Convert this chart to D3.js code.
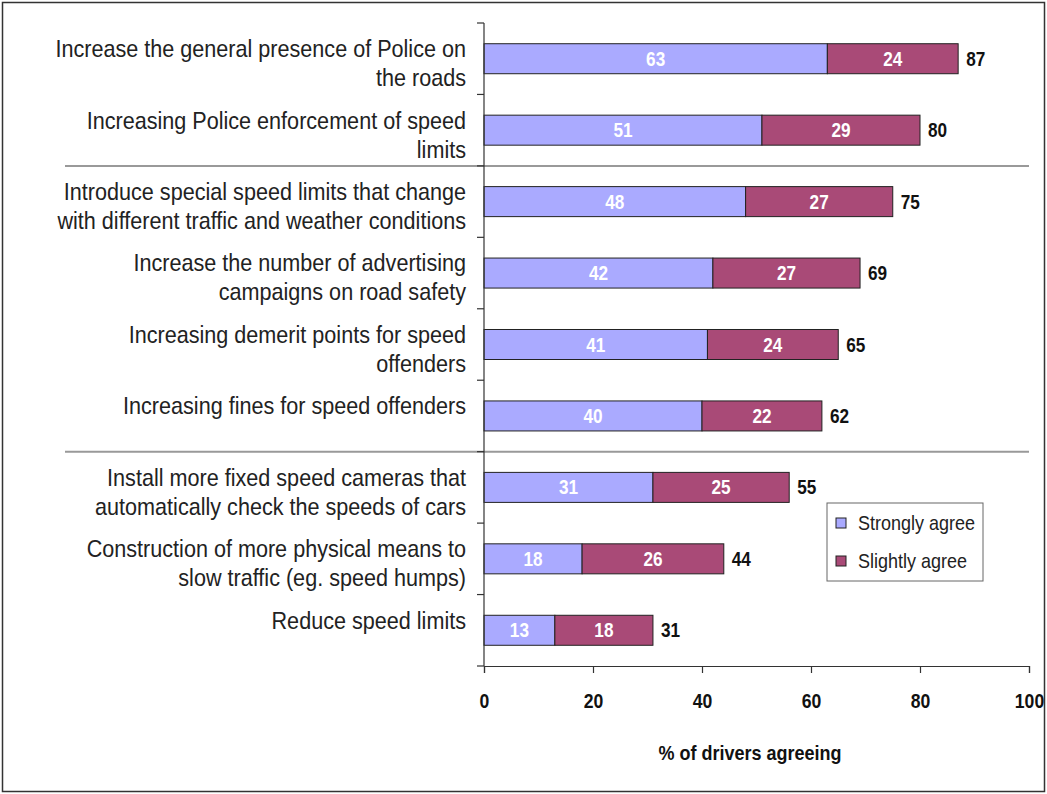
<!DOCTYPE html>
<html>
<head>
<meta charset="utf-8">
<script src="https://cdn.jsdelivr.net/npm/d3@7"></script>
<style>
  body { margin: 0; background: #fff; }
  svg text { font-family: "Liberation Sans", Arial, sans-serif; }
</style>
</head>
<body>
<div id="chart"></div>
<script>
// Stacked horizontal bars - % of drivers agreeing
const categories = [
  ['Increase the general presence of Police on', 'the roads'],
  ['Increasing Police enforcement of speed', 'limits'],
  ['Introduce special speed limits that change', 'with different traffic and weather conditions'],
  ['Increase the number of advertising', 'campaigns on road safety'],
  ['Increasing demerit points for speed', 'offenders'],
  ['Increasing fines for speed offenders'],
  ['Install more fixed speed cameras that', 'automatically check the speeds of cars'],
  ['Construction of more physical means to', 'slow traffic (eg. speed humps)'],
  ['Reduce speed limits']
];
const stronglyAgree = [63, 51, 48, 42, 41, 40, 31, 18, 13];
const slightlyAgree = [24, 29, 27, 27, 24, 22, 25, 26, 18];
const totals = [87, 80, 75, 69, 65, 62, 55, 44, 31];
const xTicks = [0, 20, 40, 60, 80, 100];
const seriesNames = ['Strongly agree', 'Slightly agree'];
const separatorsAfter = [1, 5]; // group lines after these rows

const width = 1047, height = 794;
const colors = ['#aaaaff', '#a94a77'];

const svg = d3.select('#chart').append('svg')
  .attr('width', width)
  .attr('height', height);

// narrow text helper: text anchored at (tx, ty), squeezed horizontally
// (no narrow font installed, so Liberation Sans gets compressed)
function ntext(parent, tx, ty, sq) {
  return parent.append('text')
    .attr('transform', `translate(${tx},${ty}) scale(${sq},1)`)
    .attr('dy', '0.35em');
}

// outer frame
svg.append('rect')
  .attr('x', 2.5).attr('y', 2.5)
  .attr('width', 1042).attr('height', 789)
  .attr('fill', 'none')
  .attr('stroke', '#333')
  .attr('stroke-width', 1.5);

const keys = categories.map((d, i) => i);
const x = d3.scaleLinear().domain([0, 100]).range([484, 1029]);
const y = d3.scaleBand().domain(keys).range([23, 666]).padding(0);
const barH = y.bandwidth() * 0.42;
const cy = i => y(i) + y.bandwidth() / 2;

// stack data
const rows = keys.map(i => ({ i: i, strong: stronglyAgree[i], slight: slightlyAgree[i] }));
const series = d3.stack().keys(['strong', 'slight'])(rows);

// separator lines
svg.append('g').selectAll('line')
  .data(separatorsAfter)
  .join('line')
  .attr('x1', 65).attr('x2', x(100))
  .attr('y1', d => y(d) + y.step())
  .attr('y2', d => y(d) + y.step())
  .attr('stroke', '#999')
  .attr('stroke-width', 2);

// bars
const g = svg.append('g');
series.forEach((s, si) => {
  g.append('g').selectAll('rect')
    .data(s)
    .join('rect')
    .attr('x', d => x(d[0]))
    .attr('y', d => cy(d.data.i) - barH / 2)
    .attr('width', d => x(d[1]) - x(d[0]))
    .attr('height', barH)
    .attr('fill', colors[si])
    .attr('stroke', '#222')
    .attr('stroke-width', 1);

  // value labels in segments
  const lg = g.append('g');
  s.forEach(d => {
    ntext(lg, (x(d[0]) + x(d[1])) / 2, cy(d.data.i), 0.86)
      .attr('text-anchor', 'middle')
      .attr('font-size', 20)
      .attr('font-weight', 'bold')
      .attr('fill', '#fff')
      .text(d[1] - d[0]);
  });
});

// totals
const tg = g.append('g');
keys.forEach(i => {
  ntext(tg, x(stronglyAgree[i] + slightlyAgree[i]) + 8, cy(i), 0.86)
    .attr('font-size', 20)
    .attr('font-weight', 'bold')
    .attr('fill', '#111')
    .text(totals[i]);
});

// y axis line + ticks at category boundaries
const yAxis = svg.append('g').attr('stroke', '#333').attr('stroke-width', 1.2);
yAxis.append('line')
  .attr('x1', x(0)).attr('x2', x(0))
  .attr('y1', y.range()[0]).attr('y2', y.range()[1]);
yAxis.selectAll('line.tick')
  .data(keys.concat([keys.length]))
  .join('line')
  .attr('class', 'tick')
  .attr('x1', x(0) - 7).attr('x2', x(0))
  .attr('y1', i => y.range()[0] + i * y.step())
  .attr('y2', i => y.range()[0] + i * y.step());

// category labels
const cg = svg.append('g');
keys.forEach(i => {
  categories[i].forEach((line, li) => {
    ntext(cg, 466, cy(i) - 10 + li * 29, 0.9)
      .attr('text-anchor', 'end')
      .attr('font-size', 24)
      .attr('fill', '#222')
      .text(line);
  });
});

// x axis
const xAxis = d3.axisBottom(x).tickValues(xTicks).tickSize(7).tickPadding(21);
svg.append('g')
  .attr('transform', `translate(0, ${y.range()[1]})`)
  .call(xAxis)
  .call(a => a.select('.domain').attr('stroke', '#333').attr('stroke-width', 1.2))
  .call(a => a.selectAll('.tick line').attr('stroke', '#333').attr('stroke-width', 1.2))
  .call(a => a.selectAll('.tick text')
    .attr('transform', 'scale(0.88,1)')
    .attr('font-size', 20)
    .attr('font-weight', 'bold')
    .attr('fill', '#111')
    .style('font-family', '"Liberation Sans", Arial, sans-serif'));

ntext(svg, 750, 753, 0.9)
  .attr('text-anchor', 'middle')
  .attr('font-size', 20)
  .attr('font-weight', 'bold')
  .attr('fill', '#111')
  .text('% of drivers agreeing');

// legend
const legend = svg.append('g').attr('transform', 'translate(827, 503)');
legend.append('rect')
  .attr('width', 156).attr('height', 78)
  .attr('fill', '#fff')
  .attr('stroke', '#666')
  .attr('stroke-width', 1);
seriesNames.forEach((name, i) => {
  const item = legend.append('g').attr('transform', `translate(0, ${20 + i * 38})`);
  item.append('rect')
    .attr('x', 9).attr('y', -5)
    .attr('width', 10).attr('height', 10)
    .attr('fill', colors[i])
    .attr('stroke', '#222');
  ntext(item, 31, 0, 0.9)
    .attr('font-size', 20)
    .attr('fill', '#222')
    .text(name);
});
</script>
</body>
</html>
